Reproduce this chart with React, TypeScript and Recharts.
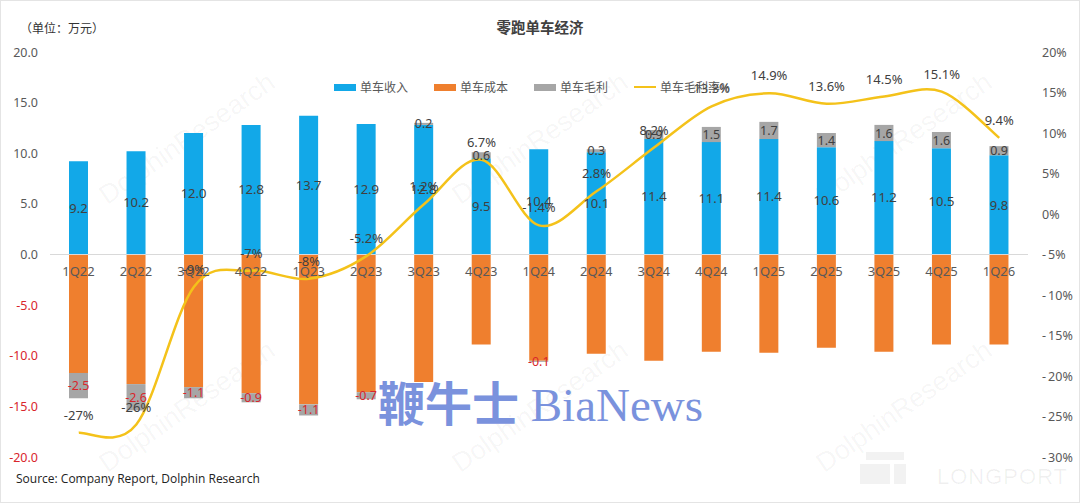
import React from 'react';
import {
  ComposedChart,
  Bar,
  Line,
  XAxis,
  YAxis,
  ReferenceLine,
  LabelList,
  Legend,
} from 'recharts';

// ---------- data ----------
const quarters = ['1Q22', '2Q22', '3Q22', '4Q22', '1Q23', '2Q23', '3Q23', '4Q23', '1Q24', '2Q24', '3Q24', '4Q24', '1Q25', '2Q25', '3Q25', '4Q25', '1Q26'];
const unitRevenue = [9.2, 10.2, 12.0, 12.8, 13.7, 12.9, 12.8, 9.5, 10.4, 10.1, 11.4, 11.1, 11.4, 10.6, 11.2, 10.5, 9.8];
const unitCost = [11.7, 12.8, 13.1, 13.7, 14.8, 13.6, 12.6, 8.9, 10.5, 9.8, 10.5, 9.6, 9.7, 9.2, 9.6, 8.9, 8.9];
const unitGrossProfit = [-2.5, -2.6, -1.1, -0.9, -1.1, -0.7, 0.2, 0.6, -0.1, 0.3, 0.9, 1.5, 1.7, 1.4, 1.6, 1.6, 0.9];
const grossMargin = [-27, -26, -9, -7, -8, -5.2, 1.2, 6.7, -1.4, 2.8, 8.2, 13.3, 14.9, 13.6, 14.5, 15.1, 9.4];
const marginLabels = ['-27%', '-26%', '-9%', '-7%', '-8%', '-5.2%', '1.2%', '6.7%', '-1.4%', '2.8%', '8.2%', '13.3%', '14.9%', '13.6%', '14.5%', '15.1%', '9.4%'];
const leftTicks = [-20, -15, -10, -5, 0, 5, 10, 15, 20];
const rightTicks = [-30, -25, -20, -15, -10, -5, 0, 5, 10, 15, 20];

const COLORS = {
  revenue: '#12A8E8',
  cost: '#EF7F2E',
  gross: '#A6A6A6',
  margin: '#F4C21A',
  text: '#404040',
  axis: '#595959',
  red: '#D9262C',
};

const legendItems = [
  { name: '单车收入', color: COLORS.revenue, kind: 'rect' },
  { name: '单车成本', color: COLORS.cost, kind: 'rect' },
  { name: '单车毛利', color: COLORS.gross, kind: 'rect' },
  { name: '单车毛利率%', color: COLORS.margin, kind: 'line' },
];

const data = quarters.map((q, i) => ({
  q,
  revenue: unitRevenue[i],
  cost: -unitCost[i],
  gross: unitGrossProfit[i],
  margin: grossMargin[i],
  ml: marginLabels[i],
}));

const FONT = '"Noto Sans", "Noto Sans CJK SC", sans-serif';

// Excel-like smoothed line (Catmull-Rom through the points)
const excelSmooth: any = (context: any) => {
  let pts: number[][] = [];
  return {
    areaStart() {},
    areaEnd() {},
    lineStart() {
      pts = [];
    },
    lineEnd() {
      if (!pts.length) return;
      context.moveTo(pts[0][0], pts[0][1]);
      const t = 1 / 6;
      for (let i = 0; i < pts.length - 1; i++) {
        const p0 = pts[i - 1] || pts[i];
        const p1 = pts[i];
        const p2 = pts[i + 1];
        const p3 = pts[i + 2] || p2;
        context.bezierCurveTo(
          p1[0] + (p2[0] - p0[0]) * t,
          p1[1] + (p2[1] - p0[1]) * t,
          p2[0] - (p3[0] - p1[0]) * t,
          p2[1] - (p3[1] - p1[1]) * t,
          p2[0],
          p2[1]
        );
      }
    },
    point(x: number, y: number) {
      pts.push([+x, +y]);
    },
  };
};

const LeftTick = (props: any) => {
  const { x, y, payload } = props;
  const v = Number(payload.value);
  return (
    <text x={x} y={y} dy={4.5} textAnchor="end" fontSize={12.5} fontFamily={FONT} fill={v < 0 ? COLORS.red : COLORS.axis}>
      {v < 0 ? '-' + Math.abs(v).toFixed(1) : v.toFixed(1)}
    </text>
  );
};

const RightTick = (props: any) => {
  const { x, y, payload } = props;
  const v = Number(payload.value);
  return (
    <text x={x} y={y} dy={4.5} textAnchor="start" fontSize={12.5} fontFamily={FONT} fill={COLORS.axis}>
      {v < 0 ? '-\u2009' + Math.abs(v) + '%' : v + '%'}
    </text>
  );
};

const GrossLabel = (props: any) => {
  const { x, y, width, height, value } = props;
  const v = Number(value);
  return (
    <text
      x={Number(x) + Number(width) / 2}
      y={Number(y) + Number(height) / 2}
      dy={4.5}
      textAnchor="middle"
      fontSize={12.5}
      fontFamily={FONT}
      fill={v < 0 ? COLORS.red : COLORS.text}
    >
      {v.toFixed(1)}
    </text>
  );
};

const CategoryLabel = (props: any) => {
  const { x, y, width, height, value } = props;
  const top = Math.min(Number(y), Number(y) + Number(height));
  return (
    <text x={Number(x) + Number(width) / 2} y={top} dy={21} textAnchor="middle" fontSize={13} fontFamily={FONT} fill={COLORS.axis}>
      {value}
    </text>
  );
};

const LegendContent = () => (
  <div style={{ display: 'flex', alignItems: 'center', fontFamily: FONT, fontSize: 12, color: COLORS.axis }}>
    {legendItems.map((it) => (
      <div key={it.name} style={{ display: 'flex', alignItems: 'center', width: 100 }}>
        {it.kind === 'rect' ? (
          <span style={{ display: 'inline-block', width: 22, height: 7, background: it.color, marginRight: 4 }} />
        ) : (
          <span style={{ display: 'inline-block', width: 22, height: 2.5, background: it.color, marginRight: 4 }} />
        )}
        <span style={{ whiteSpace: 'nowrap' }}>{it.name}</span>
      </div>
    ))}
  </div>
);

const watermarkCenters = [
  [188, 140],
  [541, 140],
  [905, 140],
  [188, 408],
  [541, 408],
  [905, 408],
];

export default function App() {
  return (
    <div
      style={{
        position: 'absolute',
        left: 0,
        top: 0,
        width: 1080,
        height: 503,
        background: '#ffffff',
        boxSizing: 'border-box',
        border: '1px solid #e4e4e4',
        overflow: 'hidden',
        fontFamily: FONT,
      }}
    >
      {/* faint background watermarks */}
      <svg width={1080} height={503} style={{ position: 'absolute', left: -1, top: -1 }}>
        {watermarkCenters.map(([cx, cy], i) => (
          <text
            key={i}
            x={cx}
            y={cy}
            textAnchor="middle"
            dominantBaseline="middle"
            fontSize={27}
            fontFamily='"Liberation Sans", Arial, sans-serif'
            fill="#000"
            fillOpacity={0.045}
            transform={`rotate(-35 ${cx} ${cy})`}
          >
            DolphinResearch
          </text>
        ))}
        <rect x={866} y={452} width={38} height={8} fill="#000" fillOpacity={0.05} />
        <rect x={860} y={464} width={30} height={20} fill="#000" fillOpacity={0.05} />
        <rect x={894} y={464} width={12} height={20} fill="#000" fillOpacity={0.05} />
        <text x={937} y={484} fontSize={22} fontFamily='"Liberation Sans", Arial, sans-serif' fill="#000" fillOpacity={0.06} letterSpacing={1}>
          LONGPORT
        </text>
      </svg>

      <div style={{ position: 'absolute', left: -1, top: -1 }}>
        <ComposedChart
          width={1080}
          height={503}
          data={data}
          stackOffset="sign"
          margin={{ top: 52, right: 0, bottom: 46, left: 0 }}
        >
          <XAxis dataKey="q" hide />
          <YAxis
            yAxisId="left"
            orientation="left"
            width={50}
            domain={[-20, 20]}
            ticks={leftTicks}
            axisLine={false}
            tickLine={false}
            tickSize={0}
            tickMargin={12}
            tick={<LeftTick />}
            interval={0}
          />
          <YAxis
            yAxisId="right"
            orientation="right"
            width={52}
            domain={[-30, 20]}
            ticks={rightTicks}
            axisLine={false}
            tickLine={false}
            tickSize={0}
            tickMargin={14}
            tick={<RightTick />}
            interval={0}
          />
          <ReferenceLine yAxisId="left" y={0} stroke="#d9d9d9" strokeWidth={1} />
          <Bar yAxisId="left" dataKey="revenue" name="单车收入" stackId="s" fill={COLORS.revenue} barSize={19} isAnimationActive={false}>
            <LabelList
              dataKey="revenue"
              position="center"
              fill={COLORS.text}
              fontSize={13}
              fontFamily={FONT}
              formatter={(v: any) => Number(v).toFixed(1)}
            />
          </Bar>
          <Bar yAxisId="left" dataKey="cost" name="单车成本" stackId="s" fill={COLORS.cost} barSize={19} isAnimationActive={false}>
            <LabelList dataKey="q" content={<CategoryLabel />} />
          </Bar>
          <Bar yAxisId="left" dataKey="gross" name="单车毛利" stackId="s" fill={COLORS.gross} barSize={19} isAnimationActive={false}>
            <LabelList dataKey="gross" content={<GrossLabel />} />
          </Bar>
          <Line
            yAxisId="right"
            dataKey="margin"
            name="单车毛利率%"
            type={excelSmooth}
            stroke={COLORS.margin}
            strokeWidth={2.5}
            dot={false}
            activeDot={false}
            isAnimationActive={false}
          >
            <LabelList dataKey="ml" position="top" offset={13} fill={COLORS.text} fontSize={13} fontFamily={FONT} />
          </Line>
          <Legend
            layout="horizontal"
            verticalAlign="middle"
            align="center"
            content={<LegendContent />}
            wrapperStyle={{ top: 78, left: 334, width: 420 }}
          />
        </ComposedChart>
      </div>

      {/* title and notes */}
      <div
        style={{
          position: 'absolute',
          left: -1,
          width: 1080,
          top: 15,
          textAlign: 'center',
          fontSize: 14.5,
          fontWeight: 700,
          color: '#404040',
          fontFamily: '"Noto Sans CJK SC", sans-serif',
        }}
      >
        零跑单车经济
      </div>
      <div style={{ position: 'absolute', left: 19, top: 18, fontSize: 12, color: '#333', fontFamily: '"Noto Sans CJK SC", sans-serif' }}>
        （单位：万元）
      </div>
      <div style={{ position: 'absolute', left: 15, top: 469, fontSize: 12, color: '#222', fontFamily: '"Open Sans", "Noto Sans", sans-serif' }}>
        Source: Company Report, Dolphin Research
      </div>
      <div
        style={{
          position: 'absolute',
          left: 377,
          top: 370,
          fontSize: 47,
          lineHeight: '60px',
          color: '#7A92DD',
          whiteSpace: 'nowrap',
          fontFamily: '"Liberation Serif", "DejaVu Serif", "Noto Sans CJK SC", serif',
        }}
      >
        <span style={{ fontFamily: '"Noto Sans CJK SC", serif', fontWeight: 700 }}>鞭牛士</span> BiaNews
      </div>
    </div>
  );
}
